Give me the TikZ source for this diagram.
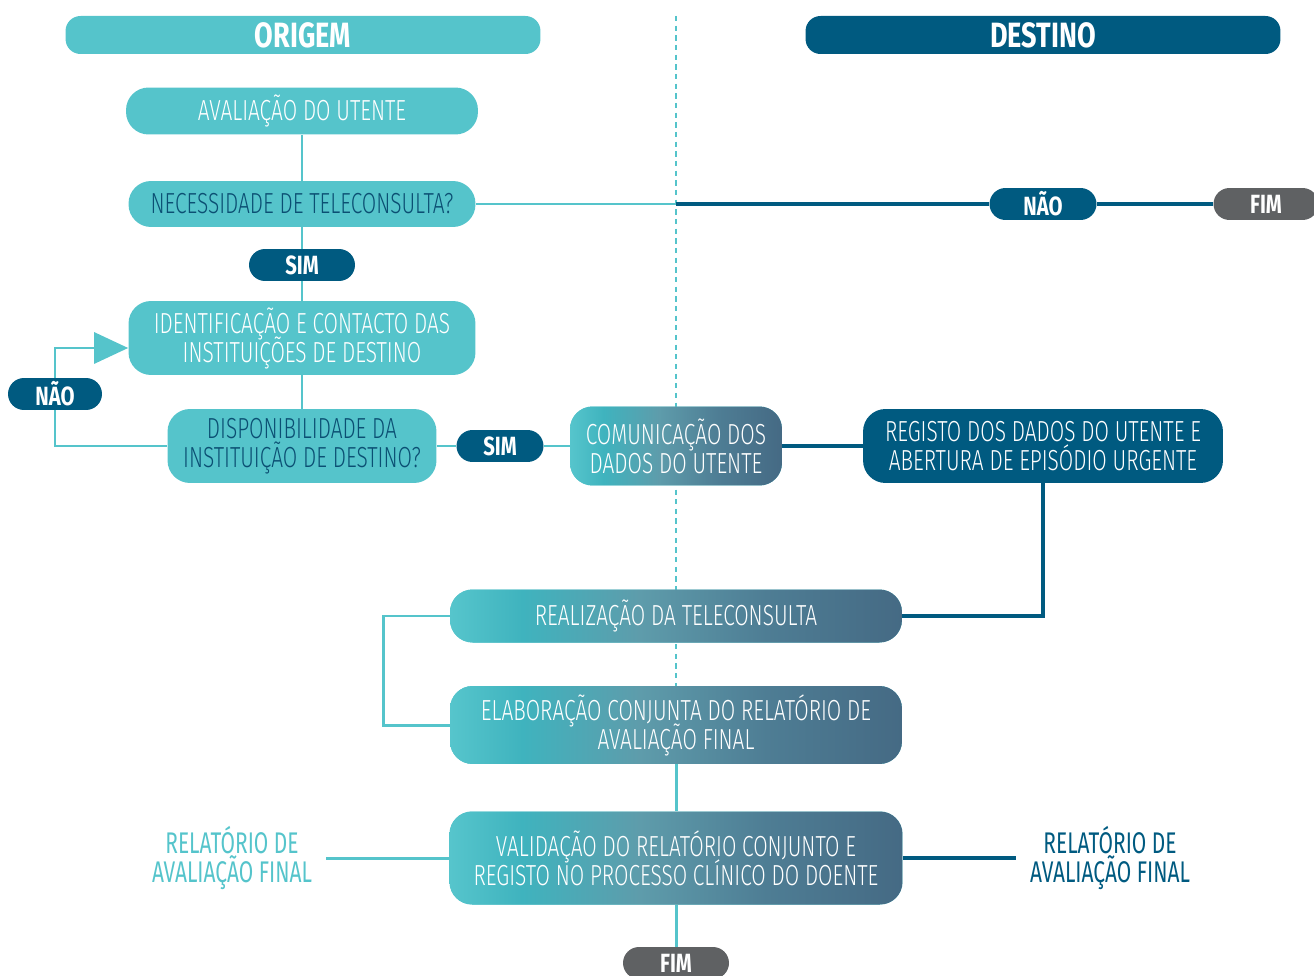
\documentclass[tikz,border=0pt]{standalone}
\usepackage{fontspec}
\setmainfont{Fira Sans}[FakeStretch=0.72, UprightFont=* Light]
\newfontfamily\pillfont{Fira Sans}[FakeStretch=0.77]
\newfontfamily\relfont{Fira Sans}[FakeStretch=0.70]
\usetikzlibrary{positioning,arrows.meta,backgrounds}
\AtBeginDocument{\lineskiplimit=-20pt\relax}

\definecolor{lteal}{HTML}{55C4CB}
\definecolor{dblue}{HTML}{005A80}
\definecolor{navytext}{HTML}{0B4F73}
\definecolor{fimgray}{HTML}{5F6163}
\definecolor{gradA}{HTML}{56C5CC}
\definecolor{gradB}{HTML}{3FB3BE}
\definecolor{gradC}{HTML}{5E9CAB}
\definecolor{gradD}{HTML}{4E7D94}
\definecolor{gradE}{HTML}{456A84}
\pgfdeclarehorizontalshading{tealslate}{100bp}{color(0bp)=(gradA); color(25bp)=(gradA); color(33bp)=(gradB); color(46bp)=(gradC); color(60bp)=(gradD); color(75bp)=(gradE); color(100bp)=(gradE)}

\tikzset{every node/.style={align=center}, >= latex,
  box/.style={rounded corners=0.45cm, fill=lteal, text=white, inner sep=0pt,
    font=\fontsize{16.5}{16.5}\selectfont},
  qbox/.style={box, text=navytext},
  gbox/.style={box, shade, shading=tealslate},
  dbox/.style={box, fill=dblue},
  head/.style={rounded corners=0.3cm, text=white, minimum width=9.5cm, minimum height=0.76cm,
    font=\pillfont\bfseries\fontsize{20}{20}\selectfont},
  pill/.style={rounded corners=0.32cm, fill=dblue, text=white, minimum height=0.64cm, inner sep=0pt,
    font=\pillfont\bfseries\fontsize{15}{15}\selectfont},
  endpill/.style={pill, fill=fimgray},
  reltext/.style={inner sep=0.28cm, font=\relfont\fontsize{17}{16.5}\selectfont},
  tline/.style={draw=lteal, line width=1.7pt},
  dline/.style={draw=dblue, line width=1.8pt}}

\begin{document}
\begin{tikzpicture}[x=0.02cm, y=-0.02cm]
  \useasboundingbox (0,0) rectangle (1314,976);

  \node [head, fill=lteal] (origem) at (303,35) {ORIGEM};
  \node [head, fill=dblue] (destino) at (1043,35) {DESTINO};

  \node [box, minimum width=7.04cm, minimum height=0.94cm] (aval) at (302,111) {AVALIAÇÃO DO UTENTE};
  \node [qbox, minimum width=6.94cm, minimum height=0.92cm] (necess) at (302,204) {NECESSIDADE DE TELECONSULTA?};
  \node [pill, minimum width=2.12cm] (sim1) at (302,265) {SIM};
  \node [box, minimum width=6.94cm, minimum height=1.48cm] (ident) at (302,338) {IDENTIFICAÇÃO E CONTACTO DAS\\INSTITUIÇÕES DE DESTINO};
  \node [qbox, minimum width=5.38cm, minimum height=1.48cm] (dispon) at (302,446) {DISPONIBILIDADE DA\\INSTITUIÇÃO DE DESTINO?};
  \node [pill, minimum width=1.88cm] (nao2) at (55,394) {NÃO};
  \node [pill, minimum width=1.74cm] (sim2) at (500,446) {SIM};
  \node [gbox, minimum width=4.24cm, minimum height=1.58cm] (comun) at (676,446) {COMUNICAÇÃO DOS\\DADOS DO UTENTE};

  \node [dbox, minimum width=7.2cm, minimum height=1.48cm] (regist) at (1043,446) {REGISTO DOS DADOS DO UTENTE E\\ABERTURA DE EPISÓDIO URGENTE};
  \node [pill, minimum width=2.14cm] (nao1) at (1043,204) {NÃO};
  \node [endpill, minimum width=2.1cm] (fim1) at (1266,204) {FIM};

  \node [gbox, minimum width=9.04cm, minimum height=1.06cm] (realiz) at (676,616) {REALIZAÇÃO DA TELECONSULTA};
  \node [gbox, minimum width=9.04cm, minimum height=1.56cm] (elabor) at (676,725) {ELABORAÇÃO CONJUNTA DO RELATÓRIO DE\\AVALIAÇÃO FINAL};
  \node [gbox, minimum width=9.06cm, minimum height=1.86cm] (valid) at (676,858) {VALIDAÇÃO DO RELATÓRIO CONJUNTO E\\REGISTO NO PROCESSO CLÍNICO DO DOENTE};
  \node [reltext, text=lteal] (relO) at (232,858) {RELATÓRIO DE\\AVALIAÇÃO FINAL};
  \node [reltext, text=dblue] (relD) at (1110,858) {RELATÓRIO DE\\AVALIAÇÃO FINAL};
  \node [endpill, minimum width=2.12cm] (fim2) at (676,963) {FIM};

  \begin{scope}[on background layer]
    \draw [lteal, line width=0.8pt, dash pattern=on 3pt off 2.5pt] (676,16) -- (676,690);
    \coordinate (split) at (necess.east -| comun);
    \draw [tline] (aval) -- (necess) -- (sim1) -- (ident) -- (dispon);
    \draw [tline] (necess.east) -- (split);
    \draw [dline] (split) -- (nao1) -- (fim1);
    \draw [tline, -{Triangle[length=0.68cm, width=0.62cm]}] (dispon.west) -| (nao2.center) |- ([yshift=-0.2cm]ident.west);
    \draw [tline] (dispon) -- (sim2) -- (comun);
    \draw [dline] (comun) -- (regist);
    \draw [dline] (regist.south) |- (realiz.east);
    \draw [tline] (realiz.west) -- ++(-66,0) |- (elabor.west);
    \draw [tline] (elabor) -- (valid) -- (fim2);
    \draw [tline] (relO.east) -- (valid.west);
    \draw [dline] (valid.east) -- (relD.west);
  \end{scope}
\end{tikzpicture}
\end{document}
